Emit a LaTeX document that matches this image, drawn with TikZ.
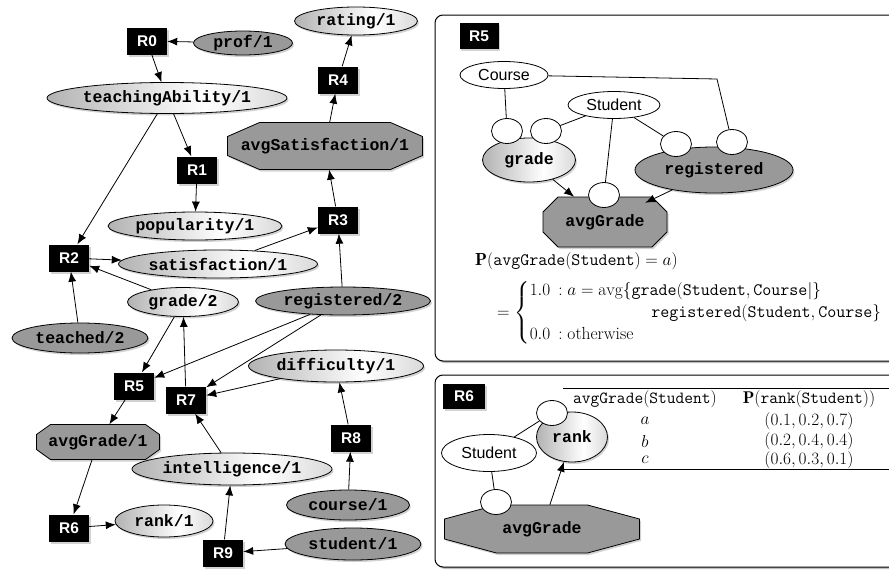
\documentclass[tikz,border=0pt]{standalone}
\usepackage{amsmath}
\usepackage{fontspec}
\usetikzlibrary{shapes.geometric,shadows,arrows.meta}
\newfontfamily\predfont{Liberation Mono}
\newfontfamily\rulefont{Liberation Sans}
% light predicate fill: grey on the left, bright just right of centre
\pgfdeclarehorizontalshading{liteshade}{100bp}{color(0bp)=(gray!60); color(25bp)=(gray!60); color(58bp)=(white); color(75bp)=(gray!30); color(100bp)=(gray!30)}
\tikzset{
  softshadow/.style={drop shadow={opacity=0.35,shadow xshift=1.5pt,shadow yshift=-2pt}},
  predtext/.style={font=\predfont\bfseries\fontsize{16.5}{18}\selectfont, inner sep=0pt},
  pred/.style={predtext, draw, line width=0.8pt},
  lite/.style 2 args={pred, ellipse, shading=liteshade, minimum width=#1, minimum height=#2, softshadow},
  dark/.style 2 args={pred, ellipse, fill=gray!80, minimum width=#1, minimum height=#2, softshadow},
  octfill/.style={draw, line width=0.8pt, fill=gray!80, softshadow},
  octlabel/.style={predtext, rectangle},
  rbox/.style={rectangle, fill=black, text=white, font=\rulefont\bfseries\fontsize{15.5}{17}\selectfont, minimum width=40, minimum height=27, inner sep=0pt, softshadow},
  port/.style={ellipse, draw, fill=white, line width=0.8pt, minimum width=31, minimum height=25, inner sep=0pt},
  var/.style 2 args={ellipse, draw, fill=white, line width=0.8pt, font=\rulefont\fontsize{16}{18}\selectfont, minimum width=#1, minimum height=#2, inner sep=0pt},
  link/.style={line width=0.8pt, -{Latex[length=10pt,width=8pt]}},
  tie/.style={line width=0.8pt},
  panel/.style={draw, line width=1pt, rounded corners=8pt, fill=white, drop shadow={opacity=0.5,shadow xshift=2pt,shadow yshift=-2pt}},
  formula/.style={inner sep=0pt, font=\fontsize{17.5}{21}\selectfont},
  cell/.style={inner sep=0pt, font=\fontsize{17}{20}\selectfont},
  rulerow/.style={line width=0.8pt}
}
% octagonal predicate: name, centre x, centre y, width, height, corner cut x, corner cut y, label
\newcommand\octnode[8]{%
  \path[octfill] ({#2-#4/2+#6},{#3-#5/2}) -- ({#2+#4/2-#6},{#3-#5/2})
    -- ({#2+#4/2},{#3-#5/2+#7}) -- ({#2+#4/2},{#3+#5/2-#7})
    -- ({#2+#4/2-#6},{#3+#5/2}) -- ({#2-#4/2+#6},{#3+#5/2})
    -- ({#2-#4/2},{#3+#5/2-#7}) -- ({#2-#4/2},{#3-#5/2+#7}) -- cycle;
  \node[octlabel, minimum width=#4, minimum height=#5] (#1) at (#2,#3) {#8};%
}
\begin{document}
\begin{tikzpicture}[x=1pt,y=-1pt]
\useasboundingbox (0,0) rectangle (889,570);
\clip (0,0) rectangle (889,570);
\fill[white] (0,0) rectangle (889,570);

% ---------------- dependency graph ----------------
\node[rbox] (r0) at (147,41) {R0};
\node[dark={99}{24}] (prof) at (243,43) {prof/1};
\node[lite={123}{28}] (rating) at (356,21) {rating/1};
\node[rbox] (r4) at (338,80) {R4};
\node[lite={240}{31}] (teach) at (167,98) {teachingAbility/1};
\octnode{asat}{325}{146}{195}{47}{32}{14}{avgSatisfaction/1}
\node[rbox] (r1) at (197,170) {R1};
\node[lite={174}{28}] (pop) at (195,226) {popularity/1};
\node[rbox] (r3) at (338,220) {R3};
\node[rbox] (r2) at (69,258) {R2};
\node[lite={199}{28}] (sat) at (218,264) {satisfaction/1};
\node[lite={111}{29}] (grade) at (183,302) {grade/2};
\node[dark={175}{28}] (reg) at (343,301) {registered/2};
\node[dark={136}{30}] (teached) at (80,338) {teached/2};
\node[lite={175}{32}] (diff) at (336,366) {difficulty/1};
\node[rbox] (r5) at (134,386) {R5};
\node[rbox] (r7) at (186,400) {R7};
\octnode{agr}{98}{442}{123}{35}{14}{10}{avgGrade/1}
\node[lite={200}{32}] (intel) at (232,469) {intelligence/1};
\node[rbox] (r8) at (351,438) {R8};
\node[dark={123}{30}] (course) at (348,505) {course/1};
\node[rbox] (r6) at (69,528) {R6};
\node[lite={98}{32}] (rank) at (164,521) {rank/1};
\node[rbox] (r9) at (223,553) {R9};
\node[dark={136}{32}] (stud) at (353,544) {student/1};

\draw[link] (prof) -- (r0);
\draw[link] (r0) -- (teach);
\draw[link] (r4) -- (rating);
\draw[link] (asat) -- (r4);
\draw[link] (teach) -- (r1);
\draw[link] (teach) -- (r2);
\draw[link] (r1) -- (pop);
\draw[link] (r3) -- (asat);
\draw[link] (sat) -- (r3);
\draw[link] (reg) -- (r3);
\draw[link] (r2) -- (sat);
\draw[link] (grade) -- (r2);
\draw[link] (teached) -- (r2);
\draw[link] (grade) -- (r5);
\draw[link] (r7) -- (grade);
\draw[link] (reg) -- (r5);
\draw[link] (reg) -- (r7);
\draw[link] (diff) -- (r7);
\draw[link] (r5) -- (agr);
\draw[link] (intel) -- (r7);
\draw[link] (r8) -- (diff);
\draw[link] (course) -- (r8);
\draw[link] (agr) -- (r6);
\draw[link] (r6) -- (rank);
\draw[link] (r9) -- (intel);
\draw[link] (stud) -- (r9);

% ---------------- rule R5 ----------------
\draw[panel] (435,15) rectangle (905,361);
\node[rbox, minimum width=39, minimum height=26] (p5) at (479,36) {R5};
\node[var={88}{27}] (course5) at (504,75) {Course};
\node[var={92}{27}] (stud5) at (614,105) {Student};
\node[lite={93}{44}] (grade5) at (529,160) {grade};
\node[port] (g5a) at (507,131) {};
\node[port] (g5b) at (546,131) {};
\node[dark={158}{46}] (reg5) at (714,170) {registered};
\node[port] (r5a) at (676,144) {};
\node[port] (r5b) at (732,142) {};
\octnode{avg5}{605}{222}{124}{50}{15}{15}{avgGrade}
\node[port] (a5) at (604,195) {};
\coordinate (bend5) at (717,79);

\draw[tie] (course5) -- (g5a);
\draw[tie] (course5) -- (bend5) -- (r5b);
\draw[tie] (stud5) -- (g5b);
\draw[tie] (stud5) -- (r5a);
\draw[tie] (stud5) -- (a5);
\draw[link] (grade5) -- (avg5);
\draw[link] (reg5) -- ([xshift=-22pt,yshift=-6pt]avg5.north east);

\node[formula, anchor=west] (pline) at (475,261) {$\mathbf{P}(\texttt{avgGrade}(\texttt{Student})=a)$};
\node[formula, anchor=west] (cases) at (497,313) {\delimiterfactor=850 $=\renewcommand\arraystretch{1.05}\left\{\begin{array}{@{}l@{\hspace{8pt}}l@{}}
  1.0 & \mathrel{:}a=\mathrm{avg}\{\texttt{grade}(\texttt{Student},\texttt{Course}|\}\\
      & \hspace{93pt}\texttt{registered}(\texttt{Student},\texttt{Course}\}\\
  0.0 & \mathrel{:}\text{otherwise}
\end{array}\right.$};

% ---------------- rule R6 ----------------
\draw[panel] (435,375) rectangle (905,567);
\node[rbox, minimum width=42, minimum height=25] (p6) at (464,396) {R6};
\node[lite={71}{50}] (rank6) at (572,437) {rank};
\node[port] (k6) at (552,413) {};
\node[var={95}{37}] (stud6) at (489,453) {Student};
\octnode{avg6}{542}{529}{195}{48}{52}{14}{avgGrade}
\node[port] (a6) at (496,502) {};

\draw[tie] (stud6) -- (k6);
\draw[tie] (stud6) -- (a6);
\draw[link] (avg6) -- (rank6);

\draw[rulerow] (563,388) -- (905,388);
\draw[rulerow] (563,469) -- (905,469);
\node[cell] (h1) at (645,399) {$\texttt{avgGrade}(\texttt{Student})$};
\node[cell] (h2) at (809,399) {$\mathbf{P}(\texttt{rank}(\texttt{Student}))$};
\node[cell] (ca) at (645,421) {$a$};
\node[cell] (pa) at (809,421) {$(0.1,0.2,0.7)$};
\node[cell] (cb) at (645,441) {$b$};
\node[cell] (pb) at (809,441) {$(0.2,0.4,0.4)$};
\node[cell] (cc) at (645,460) {$c$};
\node[cell] (pc) at (809,460) {$(0.6,0.3,0.1)$};
\end{tikzpicture}
\end{document}
